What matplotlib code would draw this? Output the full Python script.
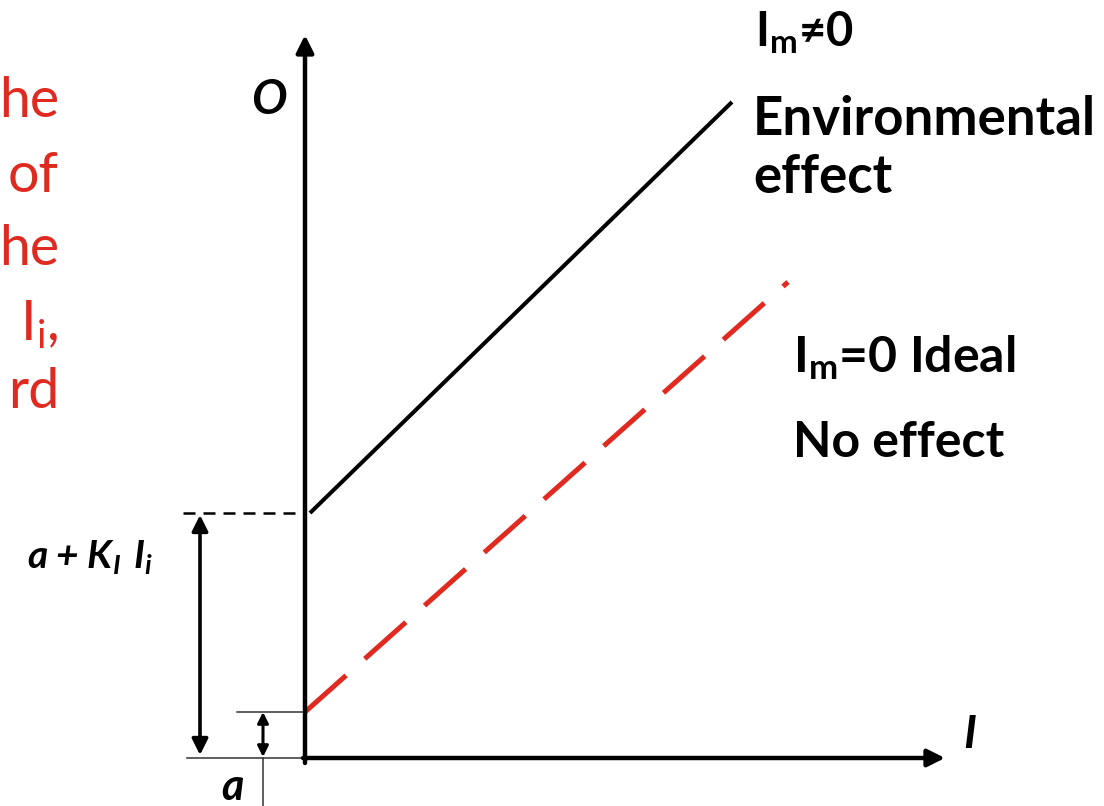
import matplotlib.pyplot as plt

plt.rcParams['font.family'] = ['Lato', 'DejaVu Sans']
plt.rcParams['mathtext.default'] = 'regular'

# diagram values (origin at the axes corner)
a_level = 46
offset_level = 245
axis_I_end = 640
axis_O_end = 723

env_I = [5, 427]
env_O = [245, 656]
ideal_I = [0, 483]
ideal_O = [46, 476]

red_lines = ['he', 'of', 'he', r'$\mathregular{I_i}$,', 'rd']
red_baselines = [641, 566, 493, 418, 350]

RED = '#e02a20'


def draw():
    fig = plt.figure(figsize=(11.04, 8.06), dpi=100)
    ax = fig.add_axes([0, 0, 1, 1])
    ax.set_xlim(-305, 799)
    ax.set_ylim(-48, 758)
    ax.axis('off')

    # axes with arrows
    arr = dict(arrowstyle='-|>', lw=3.2, color='black', mutation_scale=26,
               shrinkA=0, shrinkB=0)
    ax.annotate('', xy=(0, axis_O_end), xytext=(0, -5), arrowprops=arr)
    ax.annotate('', xy=(axis_I_end, 0), xytext=(-2, 0), arrowprops=arr)

    # the two response lines
    ax.plot(env_I, env_O, color='black', lw=2.9, solid_capstyle='butt')
    ax.plot(ideal_I, ideal_O, color=RED, lw=3.6, dashes=(11, 5),
            solid_capstyle='butt', dash_capstyle='butt')

    # guide lines
    ax.plot([-122, 0], [offset_level, offset_level], color='black', lw=1.8,
            dashes=(4.8, 3.2))
    ax.plot([-68, 0], [a_level, a_level], color='#333333', lw=1.1)
    ax.plot([-118, 0], [0, 0], color='#333333', lw=1.1)
    ax.plot([-42, -42], [0, -48], color='#333333', lw=1.1)

    # double arrows
    darr = dict(arrowstyle='<|-|>', lw=2.6, color='black', mutation_scale=24,
                shrinkA=0, shrinkB=0)
    ax.annotate('', xy=(-105, offset_level - 2), xytext=(-105, 3),
                arrowprops=darr)
    sarr = dict(arrowstyle='<|-|>', lw=2.2, color='black', mutation_scale=16,
                shrinkA=0, shrinkB=0)
    ax.annotate('', xy=(-42, a_level), xytext=(-42, 1), arrowprops=sarr)

    # axis labels
    ax.text(-36, 658, 'O', fontsize=34, style='italic', weight='bold',
            ha='center', va='center')
    ax.text(665, 23, 'I', fontsize=33, style='italic', weight='bold',
            ha='center', va='center')
    ax.text(-73, -29, 'a', fontsize=31, style='italic', weight='bold',
            ha='center', va='center')
    ax.text(-215, 201, r'a + $\mathregular{K_I\ I_i}$', fontsize=28,
            style='italic', weight='bold', ha='center', va='center')

    # line annotations
    bold = dict(weight='bold', ha='left', va='baseline')
    ax.text(450, 711, r'$\mathregular{I_m}$≠0', fontsize=34, **bold)
    ax.text(448, 623, 'Environmental', fontsize=38, **bold)
    ax.text(448, 565, 'effect', fontsize=38, **bold)
    ax.text(488, 386, r'$\mathregular{I_m}$=0 Ideal', fontsize=36, **bold)
    ax.text(488, 301, 'No effect', fontsize=36, **bold)

    # cropped slide text on the left
    for s, y in zip(red_lines, red_baselines):
        ax.text(-246, y, s, fontsize=40, color=RED, ha='right',
                va='baseline')

    fig.savefig('out.png', dpi=100)


if __name__ == '__main__':
    draw()
